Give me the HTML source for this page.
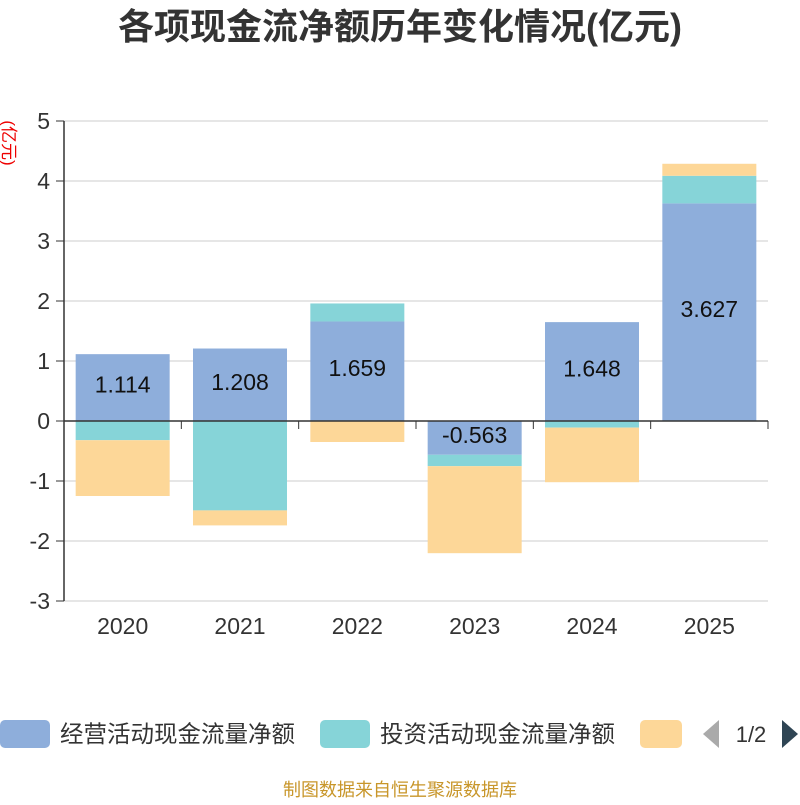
<!DOCTYPE html>
<html><head><meta charset="utf-8"><style>
body{margin:0;background:#fff;}
svg text{font-family:"Liberation Sans","Noto Sans CJK SC",sans-serif;}
</style></head><body>
<svg width="800" height="800" id="c">
<text x="400" y="39" text-anchor="middle" font-size="36" font-weight="bold" fill="#333">各项现金流净额历年变化情况(亿元)</text>
<text transform="translate(3,143) rotate(90)" text-anchor="middle" font-size="17" fill="#e00">(亿元)</text>
<g id="grid"></g><g id="bars"></g><g id="axes"></g>
<g>
<rect x="0" y="720" width="50" height="28" rx="5" fill="#8eaedb"/>
<text x="60" y="742" font-size="23.5" fill="#333">经营活动现金流量净额</text>
<rect x="320" y="720" width="50" height="28" rx="5" fill="#86d4d8"/>
<text x="380" y="742" font-size="23.5" fill="#333">投资活动现金流量净额</text>
<rect x="640" y="720" width="42" height="28" rx="5" fill="#fdd798"/>
<path d="M719 720 L703 734 L719 748 Z" fill="#aaa"/>
<text x="751" y="742" text-anchor="middle" font-size="22" fill="#333">1/2</text>
<path d="M782 720 L798 734 L782 748 Z" fill="#2f4554"/>
</g>
<text x="400" y="796" text-anchor="middle" font-size="18" fill="#c8962a">制图数据来自恒生聚源数据库</text>
</svg>
<script>
const categories=["2020","2021","2022","2023","2024","2025"];
const operating=[1.114,1.208,1.659,-0.563,1.648,3.627];
const investing=[-0.32,-1.49,0.30,-0.19,-0.11,0.46];
const financing=[-0.93,-0.25,-0.35,-1.45,-0.91,0.20];
const yTicks=[5,4,3,2,1,0,-1,-2,-3];
const NS="http://www.w3.org/2000/svg";
const L=64,R=768,T=121,B=601,ymax=5,ymin=-3;
const y=v=>T+(ymax-v)/(ymax-ymin)*(B-T);
const bw=(R-L)/categories.length;
const x=i=>L+bw*i;
function mk(tag,a,p){const e=document.createElementNS(NS,tag);for(const k in a)e.setAttribute(k,a[k]);p.appendChild(e);return e;}
const grid=document.getElementById('grid'),bars=document.getElementById('bars'),axes=document.getElementById('axes');
yTicks.forEach(t=>{
 const l=mk('line',{x1:L,x2:R,y1:y(t),y2:y(t),stroke:'#ccc','stroke-width':1},grid);
 
 
 const tk=mk('line',{x1:L-8,x2:L,y1:y(t),y2:y(t),stroke:'#333'},axes);
 
 
 const tx=mk('text',{x:L-14,y:y(t)+8,'text-anchor':'end','font-size':23,fill:'#333'},axes);
 tx.textContent=t;
 
 
});
const ya=mk('line',{x1:L,x2:L,y1:T,y2:B,stroke:'#333','stroke-width':1.5},axes);


const xa=mk('line',{x1:L,x2:R,y1:y(0),y2:y(0),stroke:'#333','stroke-width':1.5},axes);


for(let i=0;i<=categories.length;i++){
 const tk=mk('line',{x1:x(i),x2:x(i),y1:y(0),y2:y(0)+8,stroke:'#333'},axes);
 
 
}
const series=[[operating,'#8eaedb','operating'],[investing,'#86d4d8','investing'],[financing,'#fdd798','financing']];
categories.forEach((c,i)=>{
 let pos=0,neg=0;
 series.forEach(([d,col,nm])=>{
  const v=d[i];let a,b;
  if(v>=0){a=pos;b=pos+v;pos=b;}else{a=neg;b=neg+v;neg=b;}
  const top=y(Math.max(a,b)),h=Math.abs(y(a)-y(b));
  const r=mk('rect',{x:x(i)+bw/2-47,y:top,width:94,height:h,fill:col},bars);
  
  
 });
 const lb=mk('text',{x:x(i)+bw/2,y:y(operating[i]/2)+5,'text-anchor':'middle','font-size':23,fill:'#111'},bars);
 lb.textContent=operating[i].toFixed(3);
 
 
 const xl=mk('text',{x:x(i)+bw/2,y:634,'text-anchor':'middle','font-size':23,fill:'#333'},axes);
 xl.textContent=c;
 
 
});
</script>
</body></html>
